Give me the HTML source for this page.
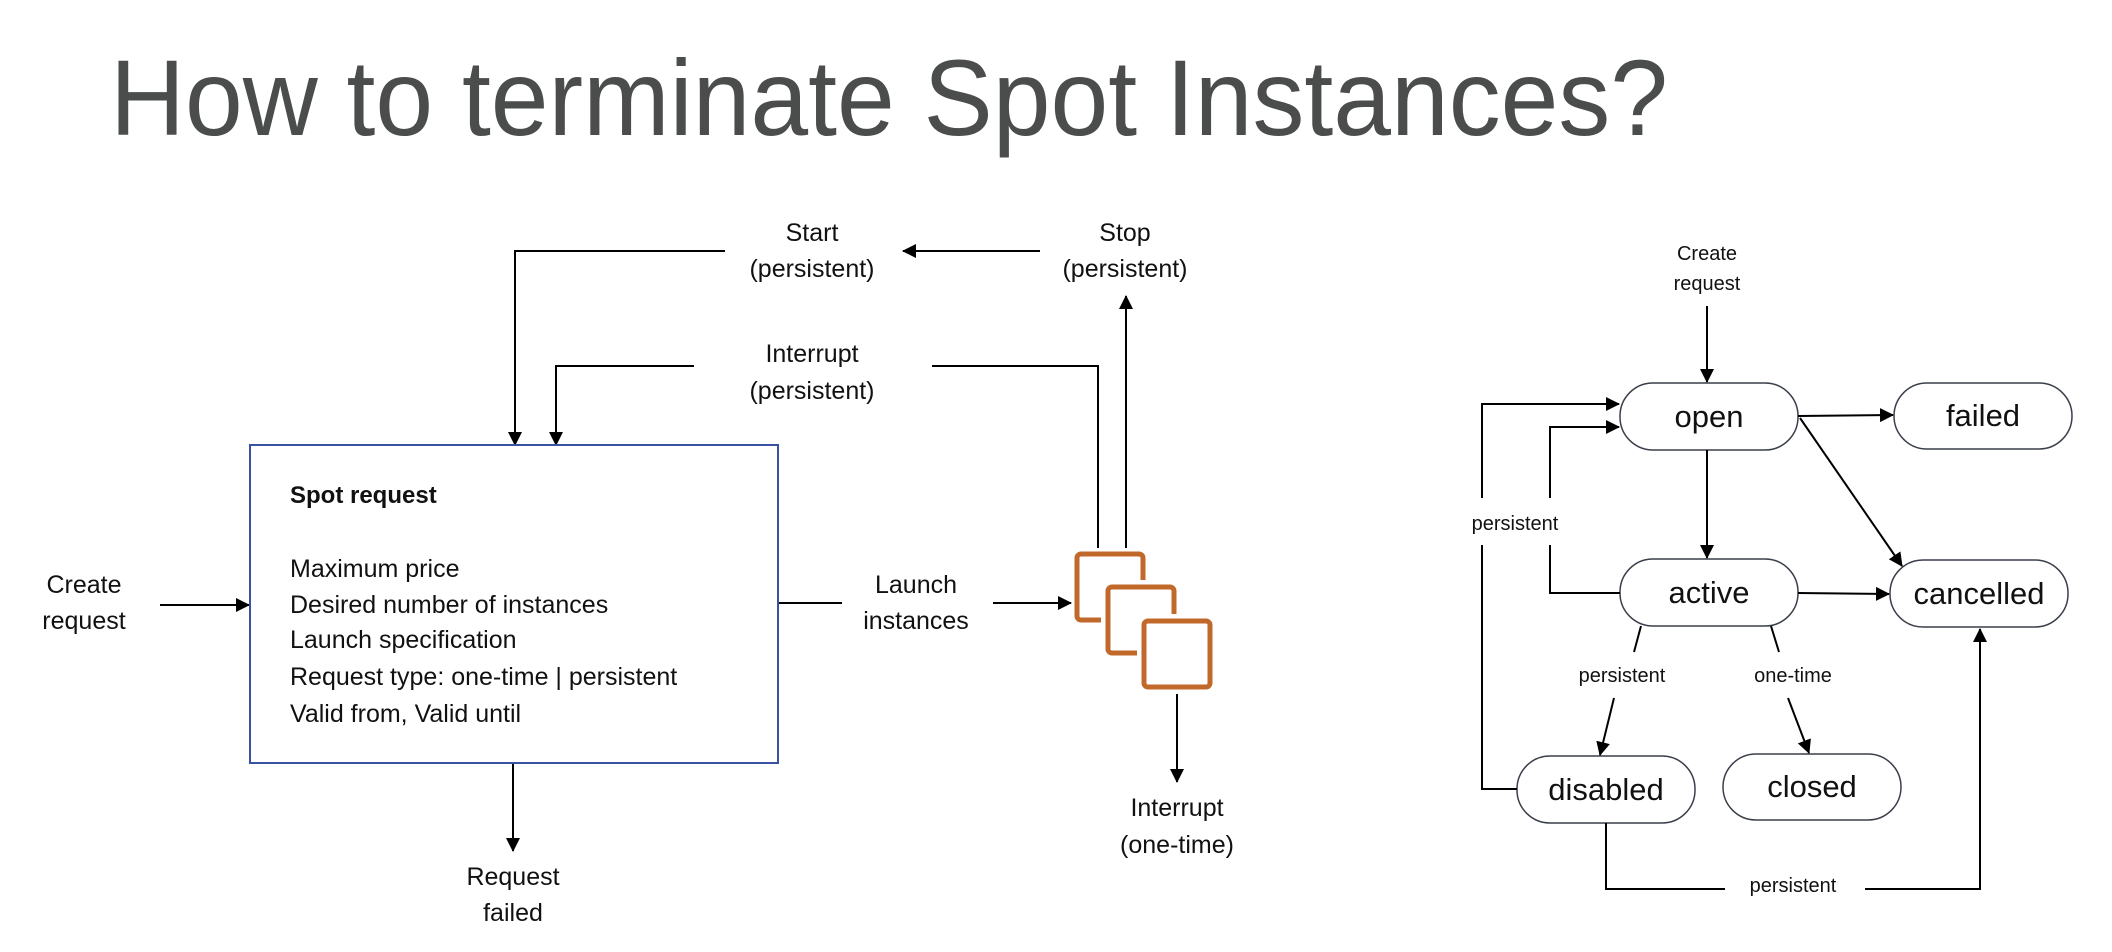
<!DOCTYPE html>
<html><head><meta charset="utf-8"><style>
html,body{margin:0;padding:0;background:#fff;}
svg{display:block;}
text{font-family:"Liberation Sans",sans-serif;fill:#111;}
</style></head><body>
<svg width="2112" height="952" viewBox="0 0 2112 952" xmlns="http://www.w3.org/2000/svg">
<defs>
<marker id="a" markerWidth="14" markerHeight="14" refX="13" refY="7" orient="auto" markerUnits="userSpaceOnUse">
<path d="M0,0 L14,7 L0,14 Z" fill="#000"/>
</marker>
</defs>
<text x="110" y="135" font-size="108" textLength="1558" lengthAdjust="spacingAndGlyphs" style="fill:#4a4d4c">How to terminate Spot Instances?</text>

<g stroke="#000" stroke-width="2" fill="none">
<polyline points="725,251 515,251 515,445" marker-end="url(#a)"/>
<line x1="1040" y1="251" x2="903" y2="251" marker-end="url(#a)"/>
<polyline points="694,366 556,366 556,445" marker-end="url(#a)"/>
<polyline points="932,366 1098,366 1098,548"/>
<line x1="1126" y1="548" x2="1126" y2="296" marker-end="url(#a)"/>
<line x1="160" y1="605" x2="249" y2="605" marker-end="url(#a)"/>
<line x1="779" y1="603" x2="842" y2="603"/>
<line x1="993" y1="603" x2="1071" y2="603" marker-end="url(#a)"/>
<line x1="1177" y1="690" x2="1177" y2="782" marker-end="url(#a)"/>
<line x1="513" y1="763" x2="513" y2="851" marker-end="url(#a)"/>
</g>
<rect x="250" y="445" width="528" height="318" fill="none" stroke="#3b52a0" stroke-width="2"/>
<text x="290" y="503" font-size="24" font-weight="bold">Spot request</text>
<g font-size="25">
<text x="290" y="577">Maximum price</text>
<text x="290" y="613">Desired number of instances</text>
<text x="290" y="648">Launch specification</text>
<text x="290" y="685">Request type: one-time | persistent</text>
<text x="290" y="722">Valid from, Valid until</text>
</g>
<g font-size="25" text-anchor="middle">
<text x="812" y="241">Start</text><text x="812" y="277">(persistent)</text>
<text x="1125" y="241">Stop</text><text x="1125" y="277">(persistent)</text>
<text x="812" y="362">Interrupt</text><text x="812" y="399">(persistent)</text>
<text x="84" y="593">Create</text><text x="84" y="629">request</text>
<text x="916" y="593">Launch</text><text x="916" y="629">instances</text>
<text x="1177" y="816">Interrupt</text><text x="1177" y="853">(one-time)</text>
<text x="513" y="885">Request</text><text x="513" y="921">failed</text>
</g>
<g fill="#fff" stroke-linejoin="round">
<rect x="1077" y="554" width="66" height="66" rx="4" stroke="#c0692b" stroke-width="5"/>
<rect x="1108" y="587" width="66" height="66" rx="4" stroke="#fff" stroke-width="14"/>
<rect x="1108" y="587" width="66" height="66" rx="4" stroke="#c0692b" stroke-width="5"/>
<rect x="1144" y="621" width="66" height="66" rx="4" stroke="#fff" stroke-width="14"/>
<rect x="1144" y="621" width="66" height="66" rx="4" stroke="#c0692b" stroke-width="5"/>
</g>

<g fill="#fff" stroke="#3a3f4a" stroke-width="1.5">
<rect x="1620" y="383" width="178" height="67" rx="33"/>
<rect x="1894" y="383" width="178" height="66" rx="33"/>
<rect x="1620" y="559" width="178" height="67" rx="33"/>
<rect x="1890" y="560" width="178" height="67" rx="33"/>
<rect x="1517" y="756" width="178" height="67" rx="33"/>
<rect x="1723" y="754" width="178" height="66" rx="33"/>
</g>
<g font-size="31" text-anchor="middle">
<text x="1709" y="427">open</text>
<text x="1983" y="426">failed</text>
<text x="1709" y="603">active</text>
<text x="1979" y="604">cancelled</text>
<text x="1606" y="800">disabled</text>
<text x="1812" y="797">closed</text>
</g>
<g font-size="20" text-anchor="middle">
<text x="1707" y="260">Create</text><text x="1707" y="290">request</text>
<text x="1515" y="530">persistent</text>
<text x="1622" y="682">persistent</text>
<text x="1793" y="682">one-time</text>
<text x="1793" y="892">persistent</text>
</g>
<g stroke="#000" stroke-width="2" fill="none">
<line x1="1707" y1="306" x2="1707" y2="382" marker-end="url(#a)"/>
<line x1="1798" y1="416" x2="1893" y2="415" marker-end="url(#a)"/>
<line x1="1800" y1="418" x2="1902" y2="566" marker-end="url(#a)"/>
<line x1="1707" y1="450" x2="1707" y2="558" marker-end="url(#a)"/>
<line x1="1798" y1="593" x2="1889" y2="594" marker-end="url(#a)"/>
<line x1="1641" y1="626" x2="1634" y2="652"/>
<line x1="1614" y1="698" x2="1600" y2="755" marker-end="url(#a)"/>
<line x1="1771" y1="626" x2="1779" y2="652"/>
<line x1="1788" y1="698" x2="1809" y2="753" marker-end="url(#a)"/>
<polyline points="1482,498 1482,404 1619,404" marker-end="url(#a)"/>
<polyline points="1517,789 1482,789 1482,545"/>
<polyline points="1550,498 1550,427 1619,427" marker-end="url(#a)"/>
<polyline points="1620,593 1550,593 1550,545"/>
<polyline points="1606,823 1606,889 1725,889"/>
<polyline points="1865,889 1980,889 1980,629" marker-end="url(#a)"/>
</g>
</svg>
</body></html>
